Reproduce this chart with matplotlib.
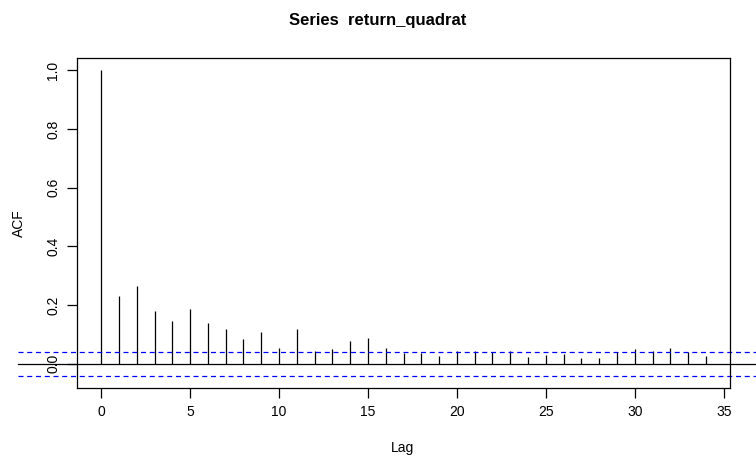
import matplotlib
matplotlib.use("Agg")
import matplotlib.pyplot as plt

plt.rcParams['font.family'] = ['Liberation Sans', 'DejaVu Sans']

lags = list(range(0, 35))
acf = [1.0, 0.232, 0.265, 0.181, 0.144, 0.186, 0.140, 0.117, 0.085, 0.107,
       0.052, 0.117, 0.044, 0.049, 0.076, 0.089, 0.052, 0.038, 0.035, 0.027,
       0.043, 0.044, 0.041, 0.044, 0.022, 0.028, 0.034, 0.019, 0.019, 0.039,
       0.049, 0.044, 0.052, 0.039, 0.025]
ci = 0.041

fig = plt.figure(figsize=(7.56, 4.57), dpi=100)
ax = fig.add_axes([0.1019, 0.151, 0.8638, 0.722])

ax.vlines(lags, 0, acf, color='black', linewidth=0.9)

# reference lines run past the box, like in the R output
trans = ax.get_yaxis_transform()
ax.plot([-0.09, 1.04], [0, 0], color='black', linewidth=0.9, transform=trans, clip_on=False)
for c in [ci, -ci]:
    ax.plot([-0.09, 1.04], [c, c], color='blue', linewidth=0.9, linestyle=(0, (4, 3)),
            transform=trans, clip_on=False)

ax.set_xlim(-1.36, 35.36)
ax.set_ylim(-0.083, 1.042)
ax.set_xticks([0, 5, 10, 15, 20, 25, 30, 35])
ax.set_yticks([0.0, 0.2, 0.4, 0.6, 0.8, 1.0])
ax.set_yticklabels(['0.0', '0.2', '0.4', '0.6', '0.8', '1.0'], rotation=90, va='center')
ax.tick_params(direction='out', length=7, width=0.9, labelsize=10, pad=5)

for s in ax.spines.values():
    s.set_linewidth(0.9)

fig.text(403 / 756, 1 - 448 / 457, "Lag", ha='center', va='center', fontsize=10)
fig.text(19 / 756, 1 - 223 / 457, "ACF", ha='center', va='center', fontsize=10, rotation=90)
fig.text(0.5, 0.956, "Series  return_quadrat", ha='center', va='center',
         fontsize=12, fontweight='bold')

plt.savefig("out.png", dpi=100)
